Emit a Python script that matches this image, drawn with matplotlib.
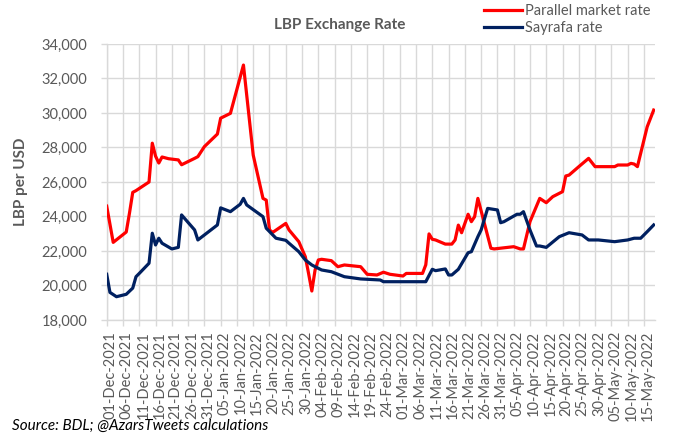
import matplotlib
matplotlib.use("Agg")
import matplotlib.pyplot as plt
import matplotlib.dates as mdates
import matplotlib.transforms as mtransforms
from matplotlib.ticker import FuncFormatter, MultipleLocator
import pandas as pd

plt.rcParams['font.family'] = ['Lato', 'DejaVu Sans']

# ---- data ----
parallel_dates = [
    "2021-12-01", "2021-12-03", "2021-12-07", "2021-12-08", "2021-12-09", "2021-12-10",
    "2021-12-14", "2021-12-15", "2021-12-16", "2021-12-17", "2021-12-18", "2021-12-20",
    "2021-12-23", "2021-12-24", "2021-12-28", "2021-12-29", "2021-12-31", "2022-01-04",
    "2022-01-05", "2022-01-08", "2022-01-12", "2022-01-15", "2022-01-18", "2022-01-19",
    "2022-01-20", "2022-01-21", "2022-01-25", "2022-01-26", "2022-01-29", "2022-01-31",
    "2022-02-01", "2022-02-02", "2022-02-03", "2022-02-04", "2022-02-05", "2022-02-08",
    "2022-02-10", "2022-02-12", "2022-02-17", "2022-02-19", "2022-02-22", "2022-02-24",
    "2022-02-26", "2022-03-02", "2022-03-03", "2022-03-08", "2022-03-09", "2022-03-10",
    "2022-03-11", "2022-03-12", "2022-03-15", "2022-03-17", "2022-03-18", "2022-03-19",
    "2022-03-20", "2022-03-22", "2022-03-23", "2022-03-24", "2022-03-25", "2022-03-27",
    "2022-03-29", "2022-03-30", "2022-04-05", "2022-04-07", "2022-04-08", "2022-04-10",
    "2022-04-13", "2022-04-15", "2022-04-17", "2022-04-20", "2022-04-21", "2022-04-22",
    "2022-04-25", "2022-04-28", "2022-04-30", "2022-05-06", "2022-05-07", "2022-05-10",
    "2022-05-11", "2022-05-12", "2022-05-13", "2022-05-15", "2022-05-16", "2022-05-18",
]
parallel_values = [
    24600, 22500, 23100, 24200, 25400, 25500,
    26000, 28250, 27500, 27100, 27450, 27350,
    27280, 27000, 27370, 27470, 28050, 28780,
    29700, 29980, 32780, 27560, 25050, 24950,
    23220, 23080, 23600, 23220, 22540, 21670,
    20700, 19680, 20900, 21480, 21520, 21440,
    21090, 21190, 21090, 20650, 20610, 20770,
    20650, 20550, 20700, 20700, 21200, 22990,
    22680, 22640, 22400, 22400, 22640, 23500,
    23060, 24130, 23700, 23990, 25050, 23600,
    22160, 22120, 22250, 22120, 22120, 23700,
    25050, 24800, 25150, 25440, 26350, 26400,
    26890, 27370, 26890, 26890, 26985, 26985,
    27080, 27040, 26890, 28430, 29200, 30170,
]

sayrafa_dates = [
    "2021-12-01", "2021-12-02", "2021-12-04", "2021-12-07", "2021-12-09", "2021-12-10",
    "2021-12-11", "2021-12-14", "2021-12-15", "2021-12-16", "2021-12-17", "2021-12-18",
    "2021-12-21", "2021-12-23", "2021-12-24", "2021-12-28", "2021-12-29", "2022-01-04",
    "2022-01-05", "2022-01-08", "2022-01-11", "2022-01-12", "2022-01-13", "2022-01-18",
    "2022-01-19", "2022-01-22", "2022-01-25", "2022-01-26", "2022-01-29", "2022-01-31",
    "2022-02-02", "2022-02-03", "2022-02-05", "2022-02-08", "2022-02-12", "2022-02-17",
    "2022-02-23", "2022-02-24", "2022-03-09", "2022-03-11", "2022-03-12", "2022-03-15",
    "2022-03-16", "2022-03-17", "2022-03-19", "2022-03-22", "2022-03-23", "2022-03-25",
    "2022-03-26", "2022-03-28", "2022-03-31", "2022-04-01", "2022-04-02", "2022-04-06",
    "2022-04-07", "2022-04-08", "2022-04-10", "2022-04-12", "2022-04-13", "2022-04-15",
    "2022-04-19", "2022-04-22", "2022-04-26", "2022-04-28", "2022-05-01", "2022-05-06",
    "2022-05-10", "2022-05-12", "2022-05-14", "2022-05-16", "2022-05-18",
]
sayrafa_values = [
    20650, 19600, 19350, 19490, 19850, 20510,
    20700, 21290, 23030, 22350, 22740, 22450,
    22120, 22210, 24090, 23220, 22640, 23510,
    24500, 24280, 24710, 25050, 24670, 23990,
    23320, 22740, 22620, 22450, 21960, 21480,
    21190, 21090, 20900, 20800, 20510, 20380,
    20320, 20220, 20220, 20940, 20860, 20960,
    20610, 20610, 20940, 21900, 21960, 22830,
    23220, 24470, 24380, 23640, 23700, 24130,
    24130, 24280, 23220, 22290, 22290, 22210,
    22830, 23060, 22930, 22640, 22640, 22540,
    22640, 22740, 22740, 23120, 23510,
]

series_names = ["Parallel market rate", "Sayrafa rate"]
title_text = "LBP Exchange Rate"
y_label = "LBP per USD"
source_text = "Source: BDL; @AzarsTweets calculations"

# ---- figure ----
fig = plt.figure(figsize=(6.8, 4.4), dpi=100)
W, H = 680, 440
left, right, top, bottom = 106.7, 655, 44, 320
ax = fig.add_axes([left / W, 1 - bottom / H, (right - left) / W, (bottom - top) / H])

pdates = pd.to_datetime(parallel_dates)
sdates = pd.to_datetime(sayrafa_dates)

grid_c = "#d9d9d9"
text_c = "#595959"

l1, = ax.plot(pdates, parallel_values, color="#ff0000", lw=2.3, solid_joinstyle="round",
              label=series_names[0], zorder=3)
l2, = ax.plot(sdates, sayrafa_values, color="#002060", lw=2.3, solid_joinstyle="round",
              label=series_names[1], zorder=3)

ax.set_ylim(18000, 34000)
ax.yaxis.set_major_locator(MultipleLocator(2000))
ax.yaxis.set_major_formatter(FuncFormatter(lambda v, p: f"{int(v):,}"))

start = pd.Timestamp("2021-12-01")
ax.set_xlim(start, start + pd.Timedelta(days=168.4))
ticks = pd.date_range("2021-12-01", "2022-05-15", freq="5D")
ax.set_xticks(ticks)
ax.set_xticklabels([t.strftime("%d-%b-%Y") for t in ticks], rotation=90)

ax.grid(True, color=grid_c, lw=1.0, zorder=0)
for s in ["top", "right"]:
    ax.spines[s].set_visible(False)
for s in ["left", "bottom"]:
    ax.spines[s].set_color(grid_c)
    ax.spines[s].set_linewidth(1.0)

ax.tick_params(axis="both", colors=grid_c, length=4, width=1.0, labelcolor=text_c)
ax.tick_params(axis="y", labelsize=10.5, pad=10)
ax.tick_params(axis="x", labelsize=10.5, pad=4)

offset = mtransforms.ScaledTranslation(4 / 100, 0, fig.dpi_scale_trans)
for lab in ax.get_xticklabels():
    lab.set_transform(lab.get_transform() + offset)

fig.text(340 / W, 1 - 25 / H, title_text, ha="center", va="center",
         fontsize=11, fontweight="bold", color=text_c)
fig.text(21 / W, 1 - 182 / H, y_label, ha="center", va="center", rotation=90,
         fontsize=11, fontweight="bold", color=text_c)
fig.text(12 / W, 1 - 426 / H, source_text, ha="left", va="center",
         fontsize=11, fontstyle="italic", color="#000000")

fig.legend(handles=[l1, l2], loc="upper left", bbox_to_anchor=(478 / W, 1 + 2 / H),
           frameon=False, fontsize=10.5, handlelength=2.6, handletextpad=0.2,
           labelspacing=0.2, borderaxespad=0, labelcolor=text_c)

fig.savefig("out.png", dpi=100)
